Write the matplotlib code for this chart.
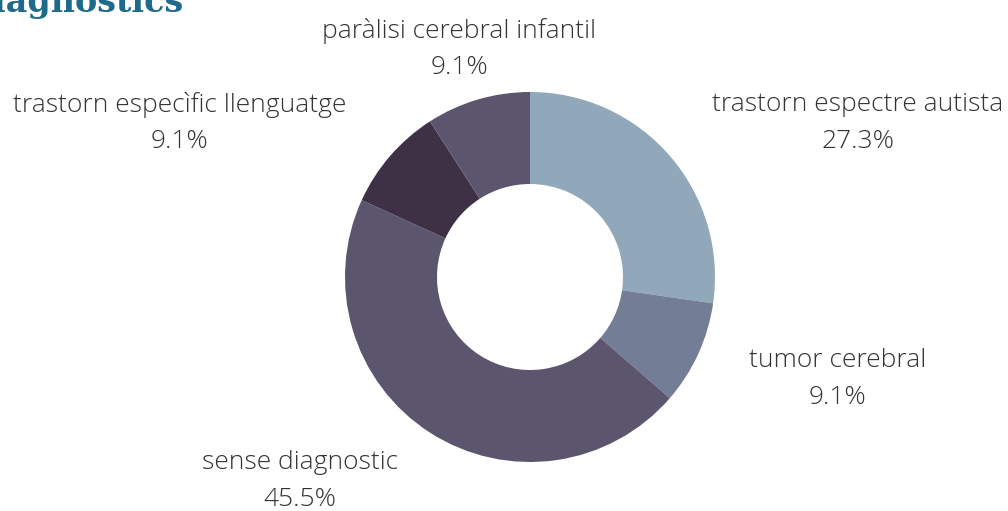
import matplotlib
matplotlib.use("Agg")
import matplotlib.pyplot as plt

# slices, clockwise from 12 o'clock
labels = ["trastorn espectre autista", "tumor cerebral", "sense diagnostic",
          "trastorn especìfic llenguatge", "paràlisi cerebral infantil"]
counts = [3, 1, 5, 1, 1]
colors = ["#91a8bb", "#737d96", "#5b566e", "#3f3145", "#5b556d"]

W, H = 1008, 511
# where each label goes (pixel coords from top-left, text centre)
label_pos = [(858, 123), (838, 379), (300, 481), (180, 123), (459, 49)]

fig = plt.figure(figsize=(W / 100, H / 100), dpi=100)
ax = fig.add_axes([0, 0, 1, 1])

wedges, _ = ax.pie(counts, colors=colors, startangle=90, counterclock=False,
                   center=(530, H - 277), radius=185,
                   wedgeprops=dict(width=92, linewidth=0))
ax.set_xlim(0, W)
ax.set_ylim(0, H)
ax.set_aspect("equal")
ax.axis("off")

total = sum(counts)
for lab, c, (x, y) in zip(labels, counts, label_pos):
    pct = 100.0 * c / total
    ax.text(x, H - y, "%s\n%.1f%%" % (lab, pct), ha="center", va="center",
            fontsize=19, family="Open Sans", fontweight="light",
            color="#333333", linespacing=1.58)

# title is cut off by the top/left edge in the original
ax.text(-36, H - 12, "Diagnòstics", ha="left", va="baseline", fontsize=24,
        family="DejaVu Serif", fontweight="bold", color="#1d6a8a")

fig.savefig("out.png", dpi=100)
